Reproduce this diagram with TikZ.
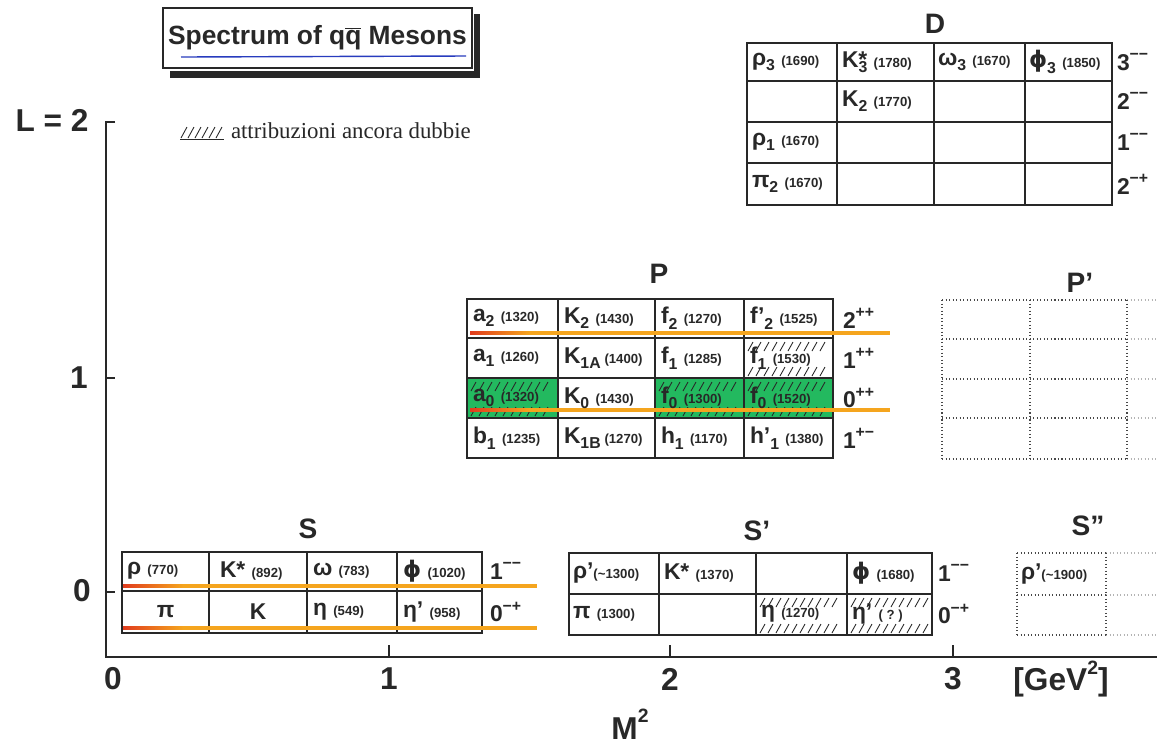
\documentclass[tikz,border=0pt]{standalone}
\usepackage{fontspec}
\setmainfont{Liberation Sans}
\newfontfamily\legendfont{Liberation Serif}
\newfontfamily\phifont{DejaVu Sans}

\definecolor{ink}{RGB}{40,40,40}
\definecolor{lineorange}{RGB}{245,165,30}
\definecolor{linered}{RGB}{225,60,30}
\definecolor{mesongreen}{RGB}{35,185,95}
\definecolor{penblue}{RGB}{40,60,190}

\newcommand{\dnidx}[1]{\raisebox{-0.45ex}{\fontsize{9}{9}\selectfont #1}}
\newcommand{\upidx}[1]{\raisebox{0.9ex}{\fontsize{9}{9}\selectfont #1}}
\newcommand{\mass}[1]{{\fontsize{7.5}{8}\selectfont (#1)}}
\newcommand{\phis}{{\phifont\bfseries ϕ}}

% short strokes along the top and bottom of a doubtful cell
\newcommand{\hatchcell}[4]{%
  \pgfmathtruncatemacro{\nh}{(#3-#1-12)/8}%
  \foreach \k in {0,...,\nh}{%
    \draw[hatch] ({#1+4+8*\k},{#2+13}) -- ++(5,-9);
    \draw[hatch] ({#1+4+8*\k},{#4-2}) -- ++(5,-9);
  }}
% orange marker line, red at its start
\newcommand{\oline}[3]{%
  \shade[left color=linered,right color=lineorange] (#1,#2-1.6) rectangle (#1+60,#2+1.6);
  \fill[lineorange] (#1+60,#2-1.6) rectangle (#3,#2+1.6);}

\begin{document}
\begin{tikzpicture}[x=0.02cm,y=-0.02cm,
  every node/.style={text=ink,inner sep=0pt,outer sep=0pt},
  entry/.style={anchor=west,font=\bfseries\fontsize{13}{13}\selectfont},
  centry/.style={font=\bfseries\fontsize{13}{13}\selectfont},
  jpc/.style={anchor=west,font=\bfseries\fontsize{13}{13}\selectfont},
  sect/.style={font=\bfseries\fontsize{16}{16}\selectfont},
  axlabel/.style={font=\bfseries\fontsize{18}{18}\selectfont},
  tab/.style={draw=ink,line width=0.7pt},
  dottab/.style={draw=ink!85,line width=0.9pt,dash pattern=on 0.6pt off 1.4pt},
  faintdot/.style={draw=ink!35,line width=0.9pt,dash pattern=on 0.6pt off 1.4pt},
  axis/.style={draw=ink,line width=1.3pt},
  hatch/.style={draw=ink,line width=0.5pt}]

\fill[white] (0,0) rectangle (1157,752);
\useasboundingbox (0,0) rectangle (1157,752);

% title
\fill[ink] (170,71) rectangle (480,78);
\fill[ink] (474,14) rectangle (480,78);
\node[draw=ink,line width=1.1pt,minimum width=6.18cm,minimum height=1.2cm,
  font=\bfseries\fontsize{15}{15}\selectfont] (title) at (317.5,38) {Spectrum of q$\overline{\mbox{q}}$ Mesons};
\draw[penblue,line width=0.8pt] (181,57) -- (466,56);

% legend
\foreach \k in {0,...,5} \draw[hatch] ({181+7*\k},138) -- ++(6,-11);
\draw[hatch] (180,139) -- (224,139);
\node[anchor=west,font=\legendfont\fontsize{13}{13}\selectfont] (legend) at (231,131) {attribuzioni ancora dubbie};

% axes
\draw[axis] (115,122) -- (106,122) -- (106,657) -- (1157,657);
\draw[axis] (106,378) -- (115,378);
\draw[axis] (106,592) -- (115,592);
\foreach \tx in {389,670,953} \draw[axis] (\tx,657) -- (\tx,645);

\node[axlabel] (ylab2) at (52,120) {L = 2};
\node[axlabel] (ylab1) at (79,378) {1};
\node[axlabel] (ylab0) at (82,591) {0};
\node[axlabel] (xlab0) at (113,679) {0};
\node[axlabel] (xlab1) at (389,679) {1};
\node[axlabel] (xlab2) at (670,679) {2};
\node[axlabel] (xlab3) at (953,679) {3};
\node[axlabel] (unit) at (1061,679) {[GeV\raisebox{1ex}{\fontsize{11}{11}\selectfont 2}]};
\node[axlabel] (msq) at (630,724) {M\raisebox{1ex}{\fontsize{11}{11}\selectfont 2}};

% D
\node[sect] (dlab) at (935,24) {D};
\draw[tab] (747,43) rectangle (1112,205);
\foreach \cx in {837,934,1025} \draw[tab] (\cx,43) -- (\cx,205);
\foreach \ry in {81,122,163} \draw[tab] (747,\ry) -- (1112,\ry);
\node[entry] (rho3) at (752,62) {ρ\dnidx{3} \mass{1690}};
\node[entry] (kst3) at (842,62) {K\rlap{*}\dnidx{3} \mass{1780}};
\node[entry] (omega3) at (938,62) {ω\dnidx{3} \mass{1670}};
\node[entry] (phi3) at (1029,62) {\phis\dnidx{3} \mass{1850}};
\node[entry] (k2d) at (842,101) {K\dnidx{2} \mass{1770}};
\node[entry] (rho1) at (752,142) {ρ\dnidx{1} \mass{1670}};
\node[entry] (pi2) at (752,184) {π\dnidx{2} \mass{1670}};
\node[jpc] (dj1) at (1117,62) {3\upidx{−−}};
\node[jpc] (dj2) at (1117,101) {2\upidx{−−}};
\node[jpc] (dj3) at (1117,142) {1\upidx{−−}};
\node[jpc] (dj4) at (1117,184) {2\upidx{−+}};

% P
\node[sect] (plab) at (659,274) {P};
\fill[mesongreen] (467,378) rectangle (558,418);
\fill[mesongreen] (655,378) rectangle (833,418);
\hatchcell{744}{338}{833}{378}
\hatchcell{467}{378}{558}{418}
\hatchcell{655}{378}{744}{418}
\hatchcell{744}{378}{833}{418}
\draw[tab] (467,299) rectangle (833,458);
\foreach \cx in {558,655,744} \draw[tab] (\cx,299) -- (\cx,458);
\foreach \ry in {338,378,418} \draw[tab] (467,\ry) -- (833,\ry);
\oline{470}{333}{890}
\oline{470}{410}{890}
\node[entry] (a2) at (473,318) {a\dnidx{2} \mass{1320}};
\node[entry] (k2) at (564,318) {K\dnidx{2} \mass{1430}};
\node[entry] (f2) at (661,318) {f\dnidx{2} \mass{1270}};
\node[entry] (f2p) at (750,318) {f'\dnidx{2} \mass{1525}};
\node[entry] (a1) at (473,358) {a\dnidx{1} \mass{1260}};
\node[entry] (k1a) at (564,358) {K\dnidx{1A}\,\mass{1400}};
\node[entry] (f1) at (661,358) {f\dnidx{1} \mass{1285}};
\node[entry] (f1p) at (750,358) {f\dnidx{1} \mass{1530}};
\node[entry] (a0) at (473,398) {a\dnidx{0} \mass{1320}};
\node[entry] (k0) at (564,398) {K\dnidx{0} \mass{1430}};
\node[entry] (f0a) at (661,398) {f\dnidx{0} \mass{1300}};
\node[entry] (f0b) at (750,398) {f\dnidx{0} \mass{1520}};
\node[entry] (b1) at (473,438) {b\dnidx{1} \mass{1235}};
\node[entry] (k1b) at (564,438) {K\dnidx{1B}\,\mass{1270}};
\node[entry] (h1) at (661,438) {h\dnidx{1} \mass{1170}};
\node[entry] (h1p) at (750,438) {h'\dnidx{1} \mass{1380}};
\node[jpc] (pj1) at (843,318) {2\upidx{++}};
\node[jpc] (pj2) at (843,358) {1\upidx{++}};
\node[jpc] (pj3) at (843,398) {0\upidx{++}};
\node[jpc] (pj4) at (843,438) {1\upidx{+−}};

% P'
\node[sect] (pplab) at (1080,283) {P'};
\foreach \ry in {300,339,379,418,459} {
  \draw[dottab] (942,\ry) -- (1127,\ry);
  \draw[faintdot] (1127,\ry) -- (1157,\ry);
}
\foreach \cx in {942,1030,1127} \draw[dottab] (\cx,300) -- (\cx,459);

% S
\node[sect] (slab) at (308,529) {S};
\draw[tab] (122,552) rectangle (482,633);
\foreach \cx in {209,307,397} \draw[tab] (\cx,552) -- (\cx,633);
\draw[tab] (122,591) -- (482,591);
\oline{123}{586}{537}
\oline{123}{628}{537}
\node[entry] (rho) at (127,571) {ρ \mass{770}};
\node[entry] (kst) at (220,571) {K* \mass{892}};
\node[entry] (omega) at (313,571) {ω \mass{783}};
\node[entry] (phi) at (403,571) {\phis\ \mass{1020}};
\node[centry] (pion) at (165.5,612) {π};
\node[centry] (kaon) at (258,612) {K};
\node[entry] (eta) at (313,612) {η \mass{549}};
\node[entry] (etap) at (403,612) {η' \mass{958}};
\node[jpc] (sj1) at (490,571) {1\upidx{−−}};
\node[jpc] (sj2) at (490,612) {0\upidx{−+}};

% S'
\node[sect] (splab) at (757,531) {S'};
\hatchcell{756}{594}{847}{635}
\hatchcell{847}{594}{932}{635}
\draw[tab] (569,553) rectangle (932,635);
\foreach \cx in {659,756,847} \draw[tab] (\cx,553) -- (\cx,635);
\draw[tab] (569,594) -- (932,594);
\node[entry] (rhop) at (573,573) {ρ'\mass{\textasciitilde 1300}};
\node[entry] (kstp) at (664,573) {K* \mass{1370}};
\node[entry] (phip) at (852,573) {\phis\ \mass{1680}};
\node[entry] (pip) at (573,614) {π \mass{1300}};
\node[entry] (etar) at (761,614) {η \mass{1270}};
\node[entry] (etarp) at (852,614) {η' \mass{\ ?\ }};
\node[jpc] (spj1) at (938,573) {1\upidx{−−}};
\node[jpc] (spj2) at (938,614) {0\upidx{−+}};

% S''
\node[sect] (spplab) at (1088,526) {S"};
\foreach \ry in {553,595,635} {
  \draw[dottab] (1017,\ry) -- (1106,\ry);
  \draw[faintdot] (1106,\ry) -- (1157,\ry);
}
\foreach \cx in {1017,1106} \draw[dottab] (\cx,553) -- (\cx,635);
\node[entry] (rhopp) at (1021,574) {ρ'\mass{\textasciitilde 1900}};
\end{tikzpicture}
\end{document}
